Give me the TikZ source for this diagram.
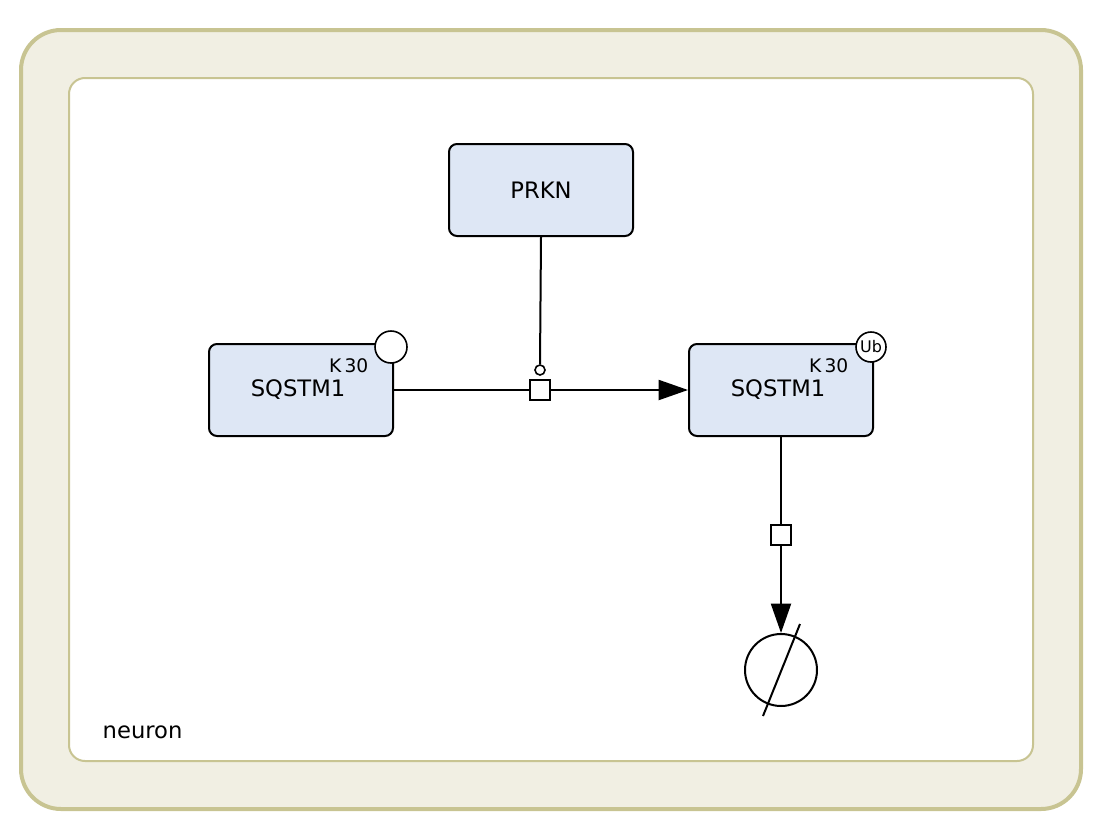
\documentclass[tikz,border=0pt]{standalone}
\usepackage{fontspec}
\setmainfont{DejaVu Sans}
\usetikzlibrary{arrows.meta}
\definecolor{compedge}{HTML}{C8C492}
\definecolor{compfill}{HTML}{F1EFE3}
\definecolor{macfill}{HTML}{DEE7F5}
\tikzset{
  macro/.style={draw=black, line width=1.5pt, fill=macfill, rounded corners=6, minimum width=184*0.75pt, minimum height=92*0.75pt, font=\fontsize{17}{19}\selectfont, inner sep=0pt},
  statevar/.style={circle, draw=black, line width=1.2pt, fill=white, inner sep=0pt},
  proc/.style={draw=black, line width=1.5pt, fill=white, minimum size=15pt, inner sep=0pt},
  edge/.style={line width=1.5pt},
  prodarrow/.style={edge, -{Triangle[length=22pt, width=15pt]}},
}
\begin{document}
\begin{tikzpicture}[x=0.75pt, y=-0.75pt]
\useasboundingbox (0,0) rectangle (1103,839);
% compartment
\draw[compedge, line width=3pt, fill=compfill, rounded corners=30] (21,30) rectangle (1081,809);
\draw[compedge, line width=1.5pt, fill=white, rounded corners=12] (69,78) rectangle (1033,761);
\node[anchor=base west, font=\fontsize{17}{19}\selectfont] (neuron) at (98,738) {neuron};
% macromolecules
\node[macro] (prkn) at (541,190) {PRKN};
\node[macro] (sq1) at (301,390) {};
\node[font=\fontsize{17}{19}\selectfont] (sq1lab) at (298,390) {SQSTM1};
\node[anchor=base east, font=\fontsize{14}{16}\selectfont] (k1) at (373,372) {K\,30};
\node[statevar, minimum size=32*0.75pt] (sv1) at (391,347) {};
\node[macro] (sq2) at (781,390) {};
\node[font=\fontsize{17}{19}\selectfont] (sq2lab) at (778,390) {SQSTM1};
\node[anchor=base east, font=\fontsize{14}{16}\selectfont] (k2) at (853,372) {K\,30};
\node[statevar, minimum size=30*0.75pt, font=\fontsize{12}{13}\selectfont] (sv2) at (871,347) {Ub};
% process 1
\node[proc] (p1) at (540,390) {};
\node[circle, draw=black, line width=1.2pt, fill=white, minimum size=10*0.75pt, inner sep=0pt] (cat) at (540,370) {};
\draw[edge] (prkn.south) -- (cat.north);
\draw[edge] (sq1.east) -- (p1.west);
\draw[prodarrow] (p1.east) -- (sq2.west);
% process 2
\node[proc] (p2) at (781,535) {};
\node[circle, draw=black, line width=1.5pt, minimum size=72*0.75pt, inner sep=0pt] (sink) at (781,670) {};
\coordinate (s1) at (763,716);
\coordinate (s2) at (800,624);
\draw[edge] (s1) -- (s2);
\draw[edge] (sq2.south) -- (p2.north);
\draw[prodarrow] (p2.south) -- (sink.north);
\end{tikzpicture}
\end{document}
